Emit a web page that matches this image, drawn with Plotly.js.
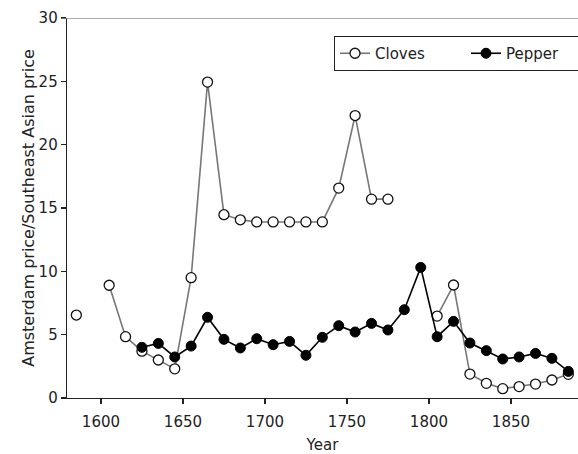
<!DOCTYPE html>
<html>
<head>
<meta charset="utf-8">
<script src="https://cdn.plot.ly/plotly-3.0.1.min.js"></script>
<style>html,body{margin:0;padding:0;background:#fff;}#chart{width:578px;height:454px;}</style>
</head>
<body>
<div id="chart"></div>
<script>
const years = [1585,1595,1605,1615,1625,1635,1645,1655,1665,1675,1685,1695,1705,1715,1725,1735,1745,1755,1765,1775,1785,1795,1805,1815,1825,1835,1845,1855,1865,1875,1885];
const cloves = [6.55,null,8.9,4.84,3.7,3.0,2.3,9.5,24.94,14.47,14.07,13.9,13.9,13.9,13.9,13.9,16.57,22.3,15.7,15.7,null,null,6.47,8.92,1.89,1.16,0.74,0.9,1.1,1.42,1.87];
const pepper = [null,null,null,null,4.0,4.31,3.24,4.1,6.37,4.63,3.95,4.68,4.21,4.47,3.37,4.79,5.71,5.21,5.89,5.37,6.97,10.31,4.84,6.05,4.34,3.74,3.08,3.24,3.52,3.13,2.1];
const yTicks = [0,5,10,15,20,25,30];
const xTicks = [1600,1650,1700,1750,1800,1850];

const FONT = '"DejaVu Sans", sans-serif';
const traces = [
  {x: years, y: cloves, name: 'Cloves', type: 'scatter', mode: 'lines+markers',
   connectgaps: false,
   line: {color: '#777777', width: 1.6},
   marker: {symbol: 'circle', size: 10, color: '#ffffff', line: {color: '#111111', width: 1.3}}},
  {x: years, y: pepper, name: 'Pepper', type: 'scatter', mode: 'lines+markers',
   connectgaps: false,
   line: {color: '#000000', width: 1.6},
   marker: {symbol: 'circle', size: 10, color: '#000000', line: {color: '#000000', width: 1}}}
];

const layout = {
  width: 578, height: 454,
  margin: {l: 67, r: 0, t: 18, b: 56, autoexpand: false},
  paper_bgcolor: '#fff', plot_bgcolor: '#fff',
  font: {family: FONT, size: 15, color: '#222'},
  showlegend: true,
  legend: {orientation: 'h', x: 0.5225, y: 0.9526, xanchor: 'left', yanchor: 'top',
           bordercolor: '#222', borderwidth: 1, bgcolor: '#fff',
           entrywidth: 86, entrywidthmode: 'pixels',
           font: {family: FONT, size: 15, color: '#222'}},
  xaxis: {range: [1579.3, 1890.9], tickvals: xTicks, ticktext: xTicks.map(String),
          showgrid: false, zeroline: false, showline: true, linecolor: '#222', linewidth: 1.3,
          ticks: 'outside', ticklen: 5, tickcolor: '#222', tickwidth: 1.3,
          ticklabelstandoff: 5,
          tickfont: {family: FONT, size: 15, color: '#222'},
          title: {text: 'Year', font: {family: FONT, size: 15, color: '#222'}, standoff: 13}},
  yaxis: {range: [0, 30], tickvals: yTicks, ticktext: yTicks.map(String),
          showgrid: false, zeroline: false, showline: true, linecolor: '#222', linewidth: 1.3,
          ticks: 'outside', ticklen: 5, tickcolor: '#222', tickwidth: 1.3,
          tickfont: {family: FONT, size: 15, color: '#222'},
          title: {text: 'Amsterdam price/Southeast Asian price', font: {family: FONT, size: 16, color: '#222'}, standoff: 0}},
  shapes: [
    {type: 'line', xref: 'paper', yref: 'y', x0: -0.012, x1: 1, y0: 30, y1: 30,
     line: {color: '#8c8c8c', width: 1.4}}
  ]
};

Plotly.newPlot('chart', traces, layout, {displayModeBar: false, staticPlot: true});
</script>
</body>
</html>
